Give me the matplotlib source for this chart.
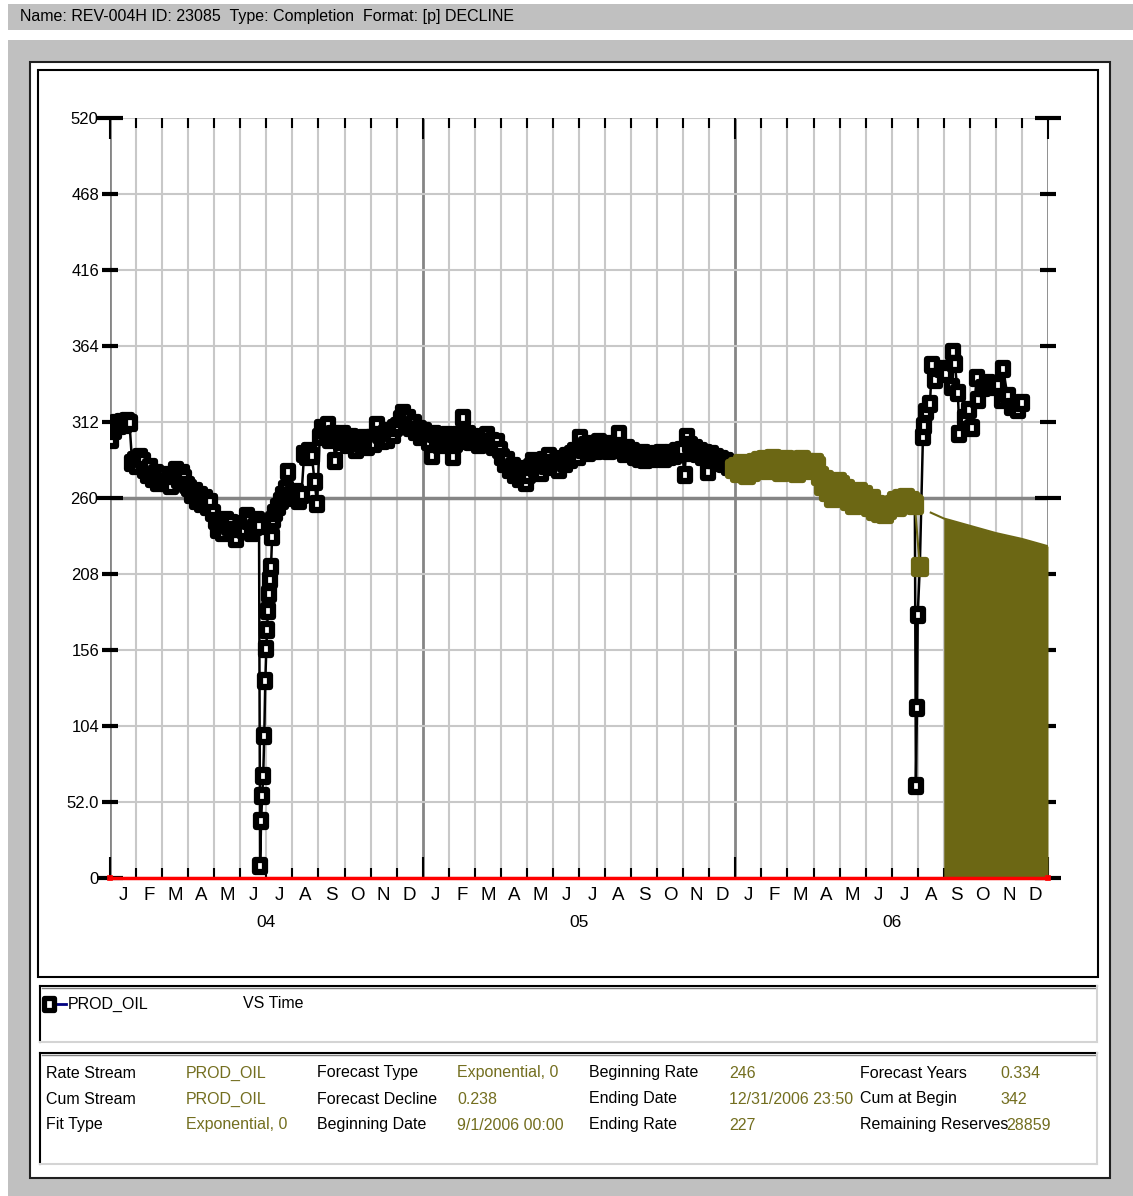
import numpy as np
import matplotlib.pyplot as plt
from matplotlib.patches import Rectangle
from matplotlib.lines import Line2D
from matplotlib.path import Path
from matplotlib.markers import MarkerStyle

plt.rcParams['font.family'] = ['Liberation Sans', 'DejaVu Sans']

# PROD_OIL rate, sampled every 3 days; time axis is months since 1 Jan 2004
step = 0.1

# Jan - Jun 2004 (t = 0.05 ...)
oil_04a = [300, 306, 311, 309, 312, 310, 313, 311, 284, 286,
           282, 288, 285, 279, 276, 281, 273, 277, 270, 274,
           276, 270, 273, 268, 275, 279, 272, 277, 274, 269,
           267, 262, 265, 258, 262, 256, 260, 254, 257, 250,
           244, 238, 241, 236, 245, 240, 243, 238, 232, 239,
           242, 238, 248, 244, 236, 240, 245]

# shut-in and restart, end of June 2004 (daily)
t_dip04 = [5.72, 5.76, 5.8, 5.84, 5.88, 5.92, 5.96, 6.0, 6.03, 6.06, 6.1, 6.14, 6.18,
           6.22, 6.26]
oil_dip04 = [241, 8, 39, 56, 70, 97, 135, 157, 170, 183, 194, 204, 213, 233, 245]

# Jul - Dec 2004 (t = 6.35 ...)
oil_04b = [250, 254, 258, 262, 266, 278, 262,
           260, 264, 258, 262, 290, 288, 292, 289, 271, 256,
           302, 308, 306, 310, 300, 304, 285, 302, 298, 304,
           300, 296, 302, 298, 293, 300, 297, 301, 295, 299,
           301, 297, 310, 303, 299, 304, 300, 306, 303, 308,
           309, 314, 318, 312, 315, 308, 311, 305, 307, 302]

# 2005 (t = 12.05 ...)
oil_05 = [306, 302, 298, 289, 304, 300, 296, 301, 298, 303,
          300, 288, 297, 303, 299, 315, 301, 304, 298, 302,
          300, 296, 301, 298, 303, 297, 299, 295, 298, 293,
          288, 283, 286, 279, 282, 276, 280, 273, 277, 270,
          276, 281, 285, 279, 283, 277, 286, 282, 289, 284,
          281, 285, 279, 287, 283, 289, 286, 290, 292, 288,
          301, 293, 296, 291, 295, 297, 292, 298, 294, 296,
          295, 292, 297, 293, 296, 304, 293, 290, 294, 291,
          292, 288, 290, 287, 291, 286, 289, 288, 287, 290,
          289, 291, 287, 290, 288, 291, 289, 292, 290, 293,
          276, 302, 296, 291, 294, 290, 292, 288, 291, 278,
          290, 286, 288, 284, 287, 283, 285, 281, 283, 280]

# Jan - Jul 2006 (t = 24.05 ...)
oil_06a = [281, 277, 283, 279, 276, 281, 278, 284, 280, 285,
           282, 286, 279, 284, 287, 281, 285, 278, 283, 286,
           284, 280, 285, 277, 282, 286, 281, 284, 279, 283,
           284, 282, 275, 268, 272, 264, 270, 260, 267, 271,
           269, 263, 266, 258, 262, 255, 259, 264, 257, 262,
           257, 254, 259, 251, 255, 250, 253, 249, 252, 254,
           255, 258, 254, 259, 256, 260, 257, 258, 256]

# second shut-in, July 2006, and the higher rates after it
t_06b = [30.89, 30.93, 30.97, 31.0, 31.08, 31.2, 31.25, 31.3, 31.47, 31.54, 31.66,
         31.93, 32.1, 32.31, 32.35, 32.42, 32.54, 32.6, 32.81, 32.95, 33.08, 33.27,
         33.31, 33.5, 33.69, 33.85, 34.07, 34.23, 34.27, 34.45, 34.61, 34.84, 35.0]
oil_06b = [255, 63, 116, 180, 213, 302, 309, 319, 324, 351, 341,
           348, 345, 336, 360, 352, 332, 304, 315, 320, 308, 342,
           327, 335, 339, 336, 337, 327, 348, 330, 322, 320, 325]

# fitted window and forecast (exponential decline)
fit_start, fit_end, fit_min_rate = 23.9, 31.1, 200
forecast_t = [31.5, 32, 33, 34, 35, 36]
forecast_rate = [250, 246, 241, 236, 232, 227]
forecast_begin = 32

zero_t = [0, 36]
zero_rate = [0, 0]

y_ticks = [0, 52, 104, 156, 208, 260, 312, 364, 416, 468, 520]
y_labels = ['0', '52.0', '104', '156', '208', '260', '312', '364', '416', '468', '520']
month_letters = ['J', 'F', 'M', 'A', 'M', 'J', 'J', 'A', 'S', 'O', 'N', 'D']
year_labels = ['04', '05', '06']

header = 'Name: REV-004H ID: 23085  Type: Completion  Format: [p] DECLINE'
table_labels = [['Rate Stream', 'Cum Stream', 'Fit Type'],
                ['Forecast Type', 'Forecast Decline', 'Beginning Date'],
                ['Beginning Rate', 'Ending Date', 'Ending Rate'],
                ['Forecast Years', 'Cum at Begin', 'Remaining Reserves']]
table_values = [['PROD_OIL', 'PROD_OIL', 'Exponential, 0'],
                ['Exponential, 0', '0.238', '9/1/2006 00:00'],
                ['246', '12/31/2006 23:50', '227'],
                ['0.334', '342', '28859']]

GRAY = '#c0c0c0'
OLIVE = '#6c6714'
OLIVE_TXT = '#736e1f'
GRID_LIGHT = '#c8c8c8'
GRID_DARK = '#858585'
FS = 11.5

# upright rectangle marker, a bit taller than wide, sharp corners
BOX = MarkerStyle(Path([(-0.44, -0.5), (0.44, -0.5), (0.44, 0.5), (-0.44, 0.5), (-0.44, -0.5)],
                       [Path.MOVETO, Path.LINETO, Path.LINETO, Path.LINETO, Path.CLOSEPOLY]),
                  joinstyle='miter')

W, H = 1133, 1196
fig = plt.figure(figsize=(W / 100, H / 100), dpi=100)
fig.patch.set_facecolor('white')


def fx(x):
    return x / W


def fy(y):
    return 1 - y / H


def rect(x0, y0, x1, y1, z=-5, **kw):
    fig.add_artist(Rectangle((fx(x0), fy(y1)), (x1 - x0) / W, (y1 - y0) / H,
                             transform=fig.transFigure, zorder=z, **kw))


def seg(x0, y0, x1, y1, **kw):
    fig.add_artist(Line2D([fx(x0), fx(x1)], [fy(y0), fy(y1)],
                          transform=fig.transFigure, **kw))


def sunken(x0, y0, x1, y1):
    seg(x0, y0, x1, y0, color='black', lw=1.5)
    seg(x0, y0, x0, y1, color='black', lw=1.5)
    seg(x0 + 2, y0 + 2, x1 - 2, y0 + 2, color='#808080', lw=1)
    seg(x0, y1, x1, y1, color='#d4d4d4', lw=1.5)
    seg(x1, y0, x1, y1, color='#d4d4d4', lw=1.5)


# window chrome
rect(8, 4, 1133, 30, fc=GRAY, ec='none')
fig.text(fx(20), fy(17), header, fontsize=FS, va='center', ha='left')
rect(8, 40, 1133, 1196, fc=GRAY, ec='none')
rect(30, 62, 1110, 1178, z=-4, fc='white', ec='#202020', lw=1.5)
rect(38, 70, 1098, 977, z=-3, fc='none', ec='black', lw=1.5)
sunken(40, 986, 1097, 1042)
sunken(40, 1053, 1097, 1164)

# legend
fig.add_artist(Line2D([fx(55), fx(66)], [fy(1004), fy(1004)], color='#000080', lw=2,
                      transform=fig.transFigure))
fig.add_artist(Line2D([fx(49)], [fy(1004)], marker=BOX, ms=8, mec='black', mfc='white',
                      mew=3.8, transform=fig.transFigure))
fig.text(fx(68), fy(1004), 'PROD_OIL', fontsize=FS, va='center', ha='left')
fig.text(fx(243), fy(1004), 'VS Time', fontsize=FS, va='center', ha='left')

# forecast summary table
col_x = [46, 317, 589, 860]
val_x = [186, 457, 729, 1000]
row_y = [1073, 1099, 1125]
for c in range(4):
    for r in range(3):
        fig.text(fx(col_x[c]), fy(row_y[r]), table_labels[c][r], fontsize=FS,
                 va='center', ha='left')
        vx = val_x[c] + 6 if table_labels[c][r] == 'Remaining Reserves' else val_x[c]
        fig.text(fx(vx), fy(row_y[r]), table_values[c][r], fontsize=FS,
                 va='center', ha='left', color=OLIVE_TXT)

# production plot
ax = fig.add_axes([fx(110), fy(878), (1048 - 110) / W, (878 - 118) / H])
ax.set_xlim(0, 36)
ax.set_ylim(0, 520)
ax.patch.set_alpha(0)
for s in ax.spines.values():
    s.set_visible(False)

months = np.arange(0, 37)
for m in months:
    dark = m % 12 == 0
    ax.axvline(m, color=GRID_DARK if dark else GRID_LIGHT, lw=2 if dark else 1.5, zorder=0.5)
for v in y_ticks:
    ax.axhline(v, color=GRID_DARK if v == 260 else GRID_LIGHT, lw=2.5 if v == 260 else 1.5,
               zorder=0.5)


def sampled(start, rates):
    return list(start + step * np.arange(len(rates)))


t_all = np.array(sampled(0.05, oil_04a) + t_dip04 + sampled(6.35, oil_04b)
                 + sampled(12.05, oil_05) + sampled(24.05, oil_06a) + t_06b)
oil_all = np.array(oil_04a + oil_dip04 + oil_04b + oil_05 + oil_06a + oil_06b)
in_fit = (t_all >= fit_start) & (t_all <= fit_end) & (oil_all >= fit_min_rate)

ax.plot(t_all, oil_all, color='black', lw=1.8, marker=BOX, ms=8, mec='black',
        mfc='white', mew=4.5, zorder=3)
ax.plot(t_all[in_fit], oil_all[in_fit], color=OLIVE, lw=1.5, marker=BOX, ms=9.5,
        mec=OLIVE, mfc=OLIVE, mew=4.5, zorder=4)

ft = np.array(forecast_t)
fr = np.array(forecast_rate)
ax.plot(ft, fr, color=OLIVE, lw=1.5, zorder=4)
ax.fill_between(ft, 0, fr, where=ft >= forecast_begin, color=OLIVE, lw=0, zorder=2)

ax.plot(zero_t, zero_rate, color='red', lw=2.5, marker='s', ms=3, mfc='none', mec='red',
        mew=1.2, zorder=5, clip_on=False)

# ticks
major_y = [0, 260, 520]
ax.set_yticks(major_y)
ax.set_yticklabels([y_labels[y_ticks.index(v)] for v in major_y])
minor_y = [v for v in y_ticks if v not in major_y]
ax.set_yticks(minor_y, minor=True)
ax.set_yticklabels([y_labels[y_ticks.index(v)] for v in minor_y], minor=True)
ax.tick_params(axis='y', which='major', direction='inout', length=19, width=3,
               left=True, right=True, labelsize=FS + 0.5, pad=-1)
ax.tick_params(axis='y', which='minor', direction='inout', length=11.5, width=3,
               left=True, right=True, labelsize=FS + 0.5, pad=2)

ax.set_xticks([0, 12, 24, 36])
ax.set_xticks(months, minor=True)
ax.tick_params(axis='x', which='major', direction='in', length=15, width=1.5,
               top=True, bottom=True, labelbottom=False)
ax.tick_params(axis='x', which='minor', direction='in', length=7, width=1.5,
               top=True, bottom=True, labelbottom=False)

xt = ax.get_xaxis_transform()
for m in range(36):
    ax.annotate(month_letters[m % 12], (m + 0.5, 0), xycoords=xt, xytext=(0, -12.5),
                textcoords='offset points', ha='center', va='center', fontsize=13.5)
for i, lab in enumerate(year_labels):
    ax.annotate(lab, (12 * i + 6, 0), xycoords=xt, xytext=(0, -32),
                textcoords='offset points', ha='center', va='center', fontsize=12.5)

fig.savefig('out.png', dpi=100)
